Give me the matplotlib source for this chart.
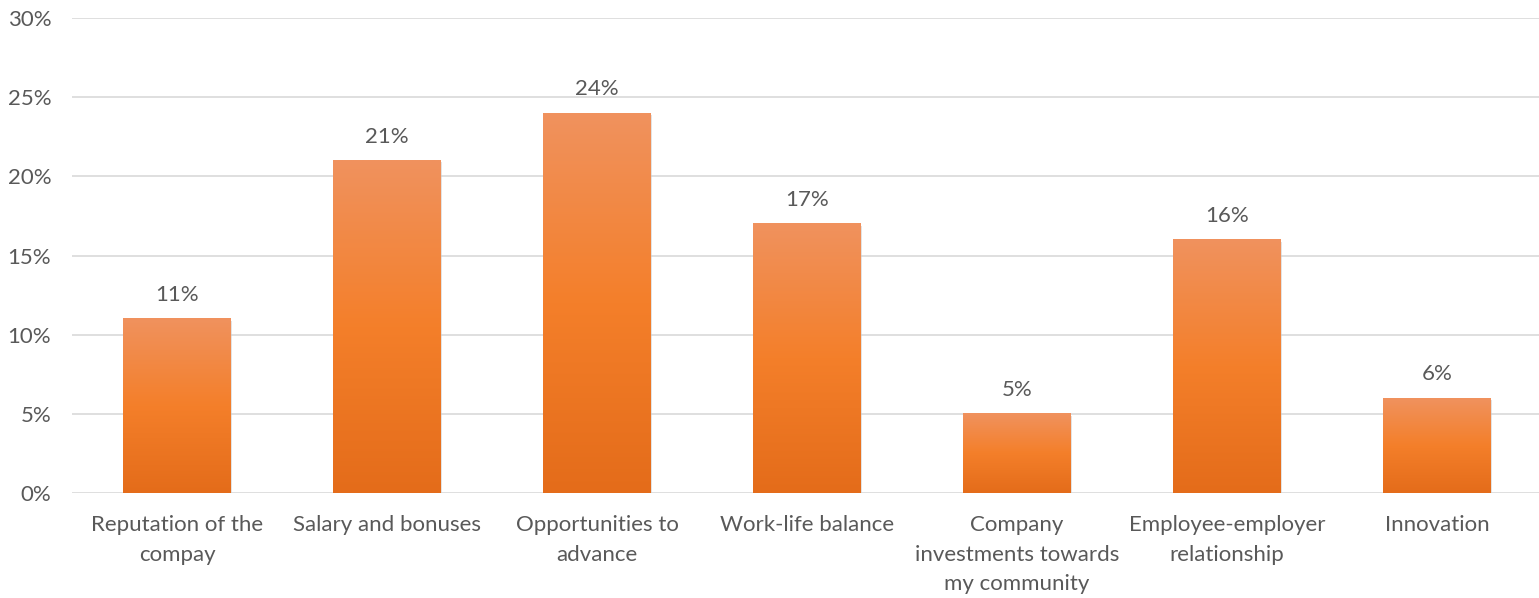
import numpy as np
import matplotlib.pyplot as plt
from matplotlib.colors import LinearSegmentedColormap

categories = ["Reputation of the\ncompay", "Salary and bonuses", "Opportunities to\nadvance",
              "Work-life balance", "Company\ninvestments towards\nmy community",
              "Employee-employer\nrelationship", "Innovation"]
values = [11, 21, 24, 17, 5, 16, 6]
yticks = [0, 5, 10, 15, 20, 25, 30]

plt.rcParams['font.family'] = ['Lato', 'DejaVu Sans']
text_color = '#595959'
fs = 16

fig = plt.figure(figsize=(15.39, 5.98), dpi=100)
ax = fig.add_axes([72 / 1539, 1 - 493 / 598, 1470 / 1539, 475 / 598])

x = np.arange(len(values))
width = 0.514
bars = ax.bar(x, values, width=width, color='none', edgecolor='none', zorder=3)

# вертикальный градиент для каждого столбца
cmap = LinearSegmentedColormap.from_list('orange', ['#E46C1A', '#F47F2A', '#F0925E'])
grad = np.linspace(0, 1, 256).reshape(-1, 1)
for b in bars:
    x0, h = b.get_x(), b.get_height()
    # легкая тень
    ax.add_patch(plt.Rectangle((x0 + 0.004, -0.12), b.get_width(), h, color='#c8c8c8',
                               alpha=0.5, zorder=2, lw=0))
    ax.imshow(grad, extent=[x0, x0 + b.get_width(), 0, h], origin='lower', cmap=cmap,
              aspect='auto', zorder=3)

for xi, v in zip(x, values):
    ax.annotate(f"{v}%", (xi, v), xytext=(0, 10), textcoords='offset points',
                ha='center', va='bottom', fontsize=fs, color=text_color)

ax.set_xlim(-0.5, len(values) - 0.5)
ax.set_ylim(0, 30)
ax.set_yticks(yticks)
ax.set_yticklabels([f"{t}%" for t in yticks], fontsize=fs, color=text_color)
ax.set_xticks(x)
ax.set_xticklabels(categories, fontsize=fs, color=text_color, linespacing=1.6, va='top')
ax.tick_params(axis='both', length=0)
ax.tick_params(axis='y', pad=15)
ax.tick_params(axis='x', pad=16)
ax.grid(axis='y', color='#D9D9D9', linewidth=1.2, zorder=0)
ax.set_axisbelow(True)
for s in ax.spines.values():
    s.set_visible(False)

fig.savefig('out.png', dpi=100)
